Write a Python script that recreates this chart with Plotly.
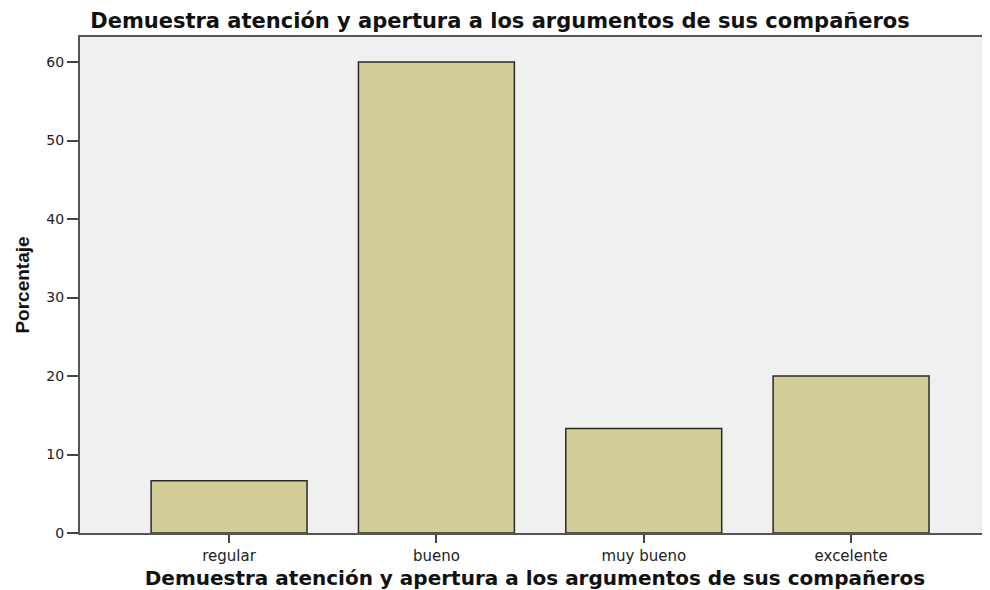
import plotly.graph_objects as go

categories = ["regular", "bueno", "muy bueno", "excelente"]
porcentaje = [6.67, 60.0, 13.33, 20.0]
y_ticks = [0, 10, 20, 30, 40, 50, 60]
title_text = "Demuestra atención y apertura a los argumentos de sus compañeros"

W, H = 982, 582  # page body has an 8px offset

fig = go.Figure(go.Bar(
    x=list(range(len(categories))),
    y=porcentaje,
    width=0.752,
    marker=dict(color="#D3CE97", line=dict(color="#2b2b2b", width=1.5)),
))

fig.update_layout(
    width=W, height=H,
    margin=dict(l=72, r=0, t=29, b=57),
    paper_bgcolor="white",
    plot_bgcolor="#F0F0F0",
    showlegend=False,
    title=dict(text="<b>" + title_text + "</b>", x=492/W, xanchor="center", y=1-13/H, yanchor="middle",
               font=dict(family="DejaVu Sans", size=21, color="#111")),
    xaxis=dict(
        range=[-0.719, 3.67],
        tickmode="array", tickvals=list(range(len(categories))), ticktext=categories,
        ticks="outside", ticklen=8, tickwidth=2, tickcolor="#444",
        showline=True, linecolor="#555", linewidth=2, mirror=True,
        showgrid=False, zeroline=False,
        tickfont=dict(family="DejaVu Sans", size=15, color="#222"),
        title=dict(text="<b>" + title_text + "</b>", standoff=8,
                   font=dict(family="DejaVu Sans", size=20, color="#111")),
    ),
    yaxis=dict(
        range=[0, 63.2],
        tickmode="array", tickvals=y_ticks,
        ticks="outside", ticklen=11, tickwidth=2, tickcolor="#444",
        showline=True, linecolor="#555", linewidth=2,
        showgrid=False, zeroline=False,
        tickfont=dict(family="DejaVu Sans", size=14, color="#222"),
        title=dict(text="<b>Porcentaje</b>", standoff=12,
                   font=dict(family="Liberation Sans", size=19, color="#111")),
    ),
)

fig.write_html("out.html")
